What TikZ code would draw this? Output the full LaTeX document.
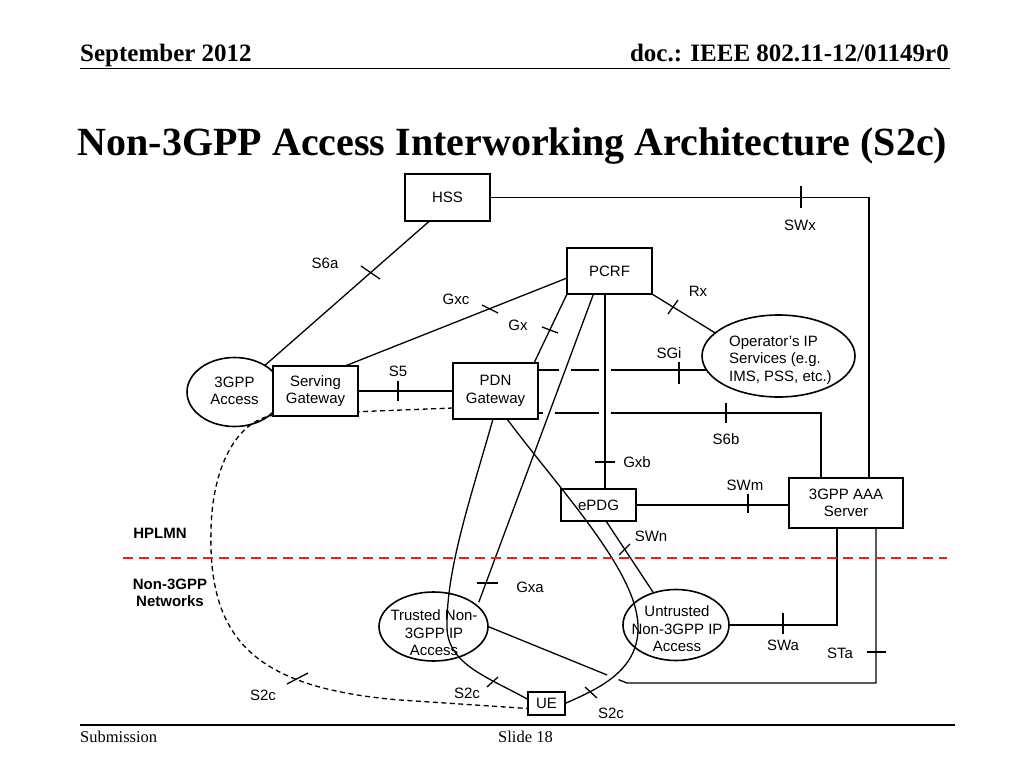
\documentclass[tikz,border=0pt]{standalone}
\usepackage{fontspec}
\setmainfont{Liberation Serif}
\setsansfont{Liberation Sans}
\usetikzlibrary{shapes.geometric,calc,intersections}
\pgfdeclarelayer{bg}
\pgfsetlayers{bg,main}
\newcommand{\diagfont}{\sffamily\fontsize{15}{17.5}\selectfont}
\newcommand{\hdrfont}{\rmfamily\bfseries\fontsize{25}{29}\selectfont}
\newcommand{\ttlfont}{\rmfamily\bfseries\fontsize{40}{48}\selectfont}
\newcommand{\ftrfont}{\rmfamily\fontsize{16.5}{19}\selectfont}
\definecolor{divred}{RGB}{232,30,36}
\begin{document}
\begin{tikzpicture}[x=1pt,y=-1pt,
  box/.style={draw, rectangle, line width=1.6pt, inner sep=0pt, outer sep=0pt, font=\diagfont, align=center},
  ell/.style={draw, ellipse, line width=1.6pt, inner sep=0pt, outer sep=0pt},
  txt/.style={font=\diagfont, align=center, inner sep=0pt},
  lbl/.style={font=\diagfont, inner sep=0pt},
  con/.style={line width=1.3pt},
  tick/.style={line width=1.3pt},
  gapmask/.style={white, line width=4.5pt},
  divider/.style={divred, line width=2pt, dash pattern=on 10pt off 6pt},
  rule/.style={line width=1.6pt}]

\begin{pgfonlayer}{bg}
\fill[white] (0,0) rectangle (1024,768);
\end{pgfonlayer}
\useasboundingbox (0,0) rectangle (1024,768);

% header and footer
\node[anchor=base west, font=\hdrfont, inner sep=0pt] (date) at (80,62) {September 2012};
\node[anchor=base east, font=\hdrfont, inner sep=0pt] (doc) at (949,62) {doc.: IEEE 802.11-12/01149r0};
\draw[rule] (80,68.5) -- (950,68.5);
\node[anchor=base, font=\ttlfont, inner sep=0pt] (title) at (512.5,155) {Non-3GPP Access Interworking Architecture (S2c)};
\draw[rule] (80,725) -- (955,725);
\node[anchor=base west, font=\ftrfont, inner sep=0pt] (sub) at (80,742) {Submission};
\node[anchor=base west, font=\ftrfont, inner sep=0pt] (slide) at (498,742) {Slide 18};

% nodes
\node[box, minimum width=85pt, minimum height=47pt] (HSS) at (447.5,197.5) {HSS};
\node[box, minimum width=85pt, minimum height=46pt] (PCRF) at (609.5,271) {PCRF};
\node[ell, minimum width=95pt, minimum height=69pt] (A3) at (234.5,392) {};
\node[txt] (A3t) at (234.5,391) {3GPP\\Access};
\node[box, fill=white, minimum width=85pt, minimum height=50pt] (SGW) at (315.5,391) {Serving\\Gateway};
\node[box, minimum width=85pt, minimum height=56pt] (PDN) at (495.5,391) {PDN\\Gateway};
\node[ell, minimum width=153pt, minimum height=82pt] (Oper) at (778.5,356) {};
\node[txt, align=left, anchor=west] (Opert) at (729,360) {Operator's IP\\Services (e.g.\\IMS, PSS, etc.)};
\node[box, minimum width=75pt, minimum height=32pt] (ePDG) at (598.5,505) {ePDG};
\node[box, minimum width=114pt, minimum height=50pt] (AAA) at (846,503) {3GPP AAA\\Server};
\node[ell, minimum width=109pt, minimum height=69pt] (Tr) at (433.5,626.5) {};
\node[txt] (Trt) at (434,633) {Trusted Non-\\3GPP IP\\Access};
\node[ell, minimum width=106pt, minimum height=71pt] (Un) at (676,625) {};
\node[txt] (Unt) at (677,629) {Untrusted\\Non-3GPP IP\\Access};
\node[box, minimum width=37pt, minimum height=23pt] (UE) at (546.5,703.5) {UE};

% dashed S2c via 3GPP access (behind Serving Gateway)
\begin{pgfonlayer}{bg}
\draw[con, dash pattern=on 5pt off 3.5pt] ($(PDN.west)+(0,17)$) -- (275,415)
   .. controls (235,420) and (212,470) .. (211,530)
   .. controls (208,640) and (255,688) .. (400,700) -- ($(UE.west)+(0,5)$);
\end{pgfonlayer}

% connectors drawn under crossings
\draw[con] (HSS.east) -| ($(AAA.north east)+(-34,0)$);
\draw[con] ($(HSS.south)+(-18,0)$) -- (A3);
\draw[con] ($(PCRF.west)+(0,7)$) -- ($(SGW.north)+(29.5,0)$);
\draw[con] (PCRF.south west) -- ($(PDN.north east)+(-4,0)$);
\draw[con] (PCRF.south east) -- (Oper.160);
\draw[con, name path=sgi] ($(PDN.east)+(0,-21)$) coordinate (sgiA) -- ($(sgiA -| Oper.west)+(4.5,0)$);
\draw[con, name path=s6b] ($(PDN.east)+(0,22)$) -| ($(AAA.north west)+(32,0)$);
\draw[con] (SGW.east) -- (PDN.west);
\draw[con] (ePDG.east) -- (ePDG.east -| AAA.west);
\draw[con] ($(ePDG.south)+(7.5,0)$) -- (Un.125);
\draw[con] (Un.east) -| ($(AAA.south)+(-9,0)$);
\draw[con, name path=sta] (Tr.east) -- (617,679) -- (627,683) -| ($(AAA.south)+(30,0)$);

% crossing lines
\path[name path=gxa] ($(PCRF.south)+(-16,0)$) -- ($(Tr.30)+(5,-1)$);
\path[name path=gxb] ($(PCRF.south)+(-4.5,0)$) coordinate (gxbA) -- (gxbA |- ePDG.north);
\path[name path=s2r] ($(PDN.south)+(11.5,0)$) .. controls (560,490) and (636,570) .. (638,625)
   .. controls (640,672) and (595,690) .. (UE.east);
\path[name intersections={of=sgi and gxa, by=i1}];
\path[name intersections={of=sgi and gxb, by=i2}];
\path[name intersections={of=s6b and gxa, by=i3}];
\path[name intersections={of=s6b and gxb, by=i4}];
\path[name intersections={of=sta and s2r, by=i5}];
\draw[gapmask] ($(i1)+(-6,0)$) -- ($(i1)+(6,0)$);
\draw[gapmask] ($(i2)+(-6,0)$) -- ($(i2)+(6,0)$);
\draw[gapmask] ($(i3)+(-6,0)$) -- ($(i3)+(6,0)$);
\draw[gapmask] ($(i4)+(-6,0)$) -- ($(i4)+(6,0)$);
\draw[gapmask] ($(i5)+(-5.6,-2.3)$) -- ($(i5)+(5.6,2.3)$);

\draw[con] ($(PCRF.south)+(-16,0)$) -- ($(Tr.30)+(5,-1)$);
\draw[con] ($(PCRF.south)+(-4.5,0)$) -- (gxbA |- ePDG.north);
\draw[con] ($(PDN.south)+(11.5,0)$) .. controls (560,490) and (636,570) .. (638,625)
   .. controls (640,672) and (595,690) .. (UE.east);
\draw[con] ($(PDN.south)+(-2.5,0)$) .. controls (470,500) and (446,570) .. (447,628)
   .. controls (448,665) and (490,678) .. ($(UE.west)+(0,-4)$);

% ticks
\draw[tick] (801,186) -- (801,208);
\draw[tick] (361,266) -- (380,279);
\draw[tick] (482,305) -- (498,313);
\draw[tick] (542,327) -- (558,333);
\draw[tick] (668,314) -- (678,300);
\draw[tick] (679,362) -- (679,384);
\draw[tick] (398,381) -- (398,401);
\draw[tick] (726,403) -- (726,423);
\draw[tick] (595,462) -- (615,462);
\draw[tick] (748,494) -- (748,513);
\draw[tick] (619,555) -- (630,544);
\draw[tick] (477,583) -- (498,583);
\draw[tick] (783,613) -- (783,634);
\draw[tick] (867,652) -- (886,652);
\draw[tick] (287,684) -- (308,673);
\draw[tick] (487,687) -- (498,677);
\draw[tick] (585,687) -- (597,698);

% labels
\node[lbl] (lS6a) at (325,263) {S6a};
\node[lbl] (lGxc) at (456,299) {Gxc};
\node[lbl] (lGx) at (518,325) {Gx};
\node[lbl] (lRx) at (698,291) {Rx};
\node[lbl] (lSWx) at (800,225) {SWx};
\node[lbl] (lSGi) at (669,353) {SGi};
\node[lbl] (lS5) at (398,371) {S5};
\node[lbl] (lS6b) at (726,439) {S6b};
\node[lbl] (lGxb) at (637,462) {Gxb};
\node[lbl] (lSWm) at (745,485) {SWm};
\node[lbl] (lSWn) at (651,536) {SWn};
\node[lbl] (lGxa) at (530,587) {Gxa};
\node[lbl] (lSWa) at (783,645) {SWa};
\node[lbl] (lSTa) at (840,653) {STa};
\node[lbl] (lS2c1) at (263,695) {S2c};
\node[lbl] (lS2c2) at (467,693) {S2c};
\node[lbl] (lS2c3) at (611,713) {S2c};

% domain divider
\draw[divider] (123,558) -- (947,558);
\node[lbl, font=\diagfont\bfseries] (hplmn) at (160,533) {HPLMN};
\node[lbl, font=\diagfont\bfseries, align=center] (non3) at (170,593) {Non-3GPP\\Networks};
\end{tikzpicture}
\end{document}
